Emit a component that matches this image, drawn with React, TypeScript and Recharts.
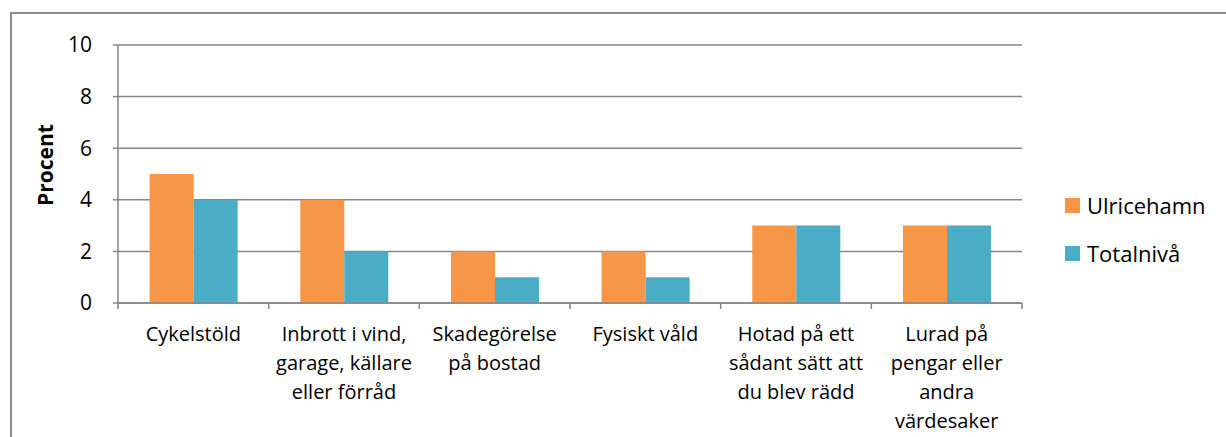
import React from "react";
import {
  BarChart,
  Bar,
  XAxis,
  YAxis,
  CartesianGrid,
  Legend,
  Label,
} from "recharts";

// kategorier (radbrytningar som i originalet)
const categories = [
  "Cykelstöld",
  "Inbrott i vind,\ngarage, källare\neller förråd",
  "Skadegörelse\npå bostad",
  "Fysiskt våld",
  "Hotad på ett\nsådant sätt att\ndu blev rädd",
  "Lurad på\npengar eller\nandra\nvärdesaker",
];
const ulricehamn = [5, 4, 2, 2, 3, 3];
const totalniva = [4, 2, 1, 1, 3, 3];
const yTicks = [0, 2, 4, 6, 8, 10];

const seriesNames = ["Ulricehamn", "Totalnivå"];
const colors = ["#F79646", "#4BACC6"];
const gridColor = "#868686";
const font = "'Open Sans', 'Liberation Sans', sans-serif";

const data = categories.map((name, i) => ({
  name,
  u: ulricehamn[i],
  t: totalniva[i],
}));

const CategoryTick = (props: any) => {
  const { x, y, payload, index, visibleTicksCount } = props;
  const half = payload.offset || 0;
  const lines = String(payload.value).split("\n");
  const isLast = index === visibleTicksCount - 1;
  const y0 = y - 8; // axis line
  return (
    <g>
      <line x1={x - half} x2={x - half} y1={y0} y2={y0 + 6} stroke={gridColor} strokeWidth={1.5} />
      {isLast && (
        <line x1={x + half} x2={x + half} y1={y0} y2={y0 + 6} stroke={gridColor} strokeWidth={1.5} />
      )}
      <text x={x} y={y0 + 38} textAnchor="middle" fontSize={20} fill="#000" fontFamily={font}>
        {lines.map((l, i) => (
          <tspan key={i} x={x} dy={i === 0 ? 0 : 29}>
            {l}
          </tspan>
        ))}
      </text>
    </g>
  );
};

const LegendContent = () => (
  <div style={{ fontFamily: font, fontSize: 22, color: "#000", lineHeight: "24px" }}>
    {seriesNames.map((n, i) => (
      <div key={n} style={{ display: "flex", alignItems: "center", height: 24, marginBottom: 24 }}>
        <span
          style={{
            display: "inline-block",
            width: 15,
            height: 15,
            background: colors[i],
            marginRight: 7,
          }}
        />
        <span>{n}</span>
      </div>
    ))}
  </div>
);

const App = () => {
  return (
    <div
      style={{
        position: "absolute",
        left: 0,
        top: 0,
        width: 1226,
        height: 437,
        overflow: "hidden",
        background: "#fff",
      }}
    >
      {/* ram runt diagrammet */}
      <div
        style={{
          position: "absolute",
          left: 10,
          top: 12,
          width: 1300,
          height: 500,
          border: "2px solid #8c8c8c",
        }}
      />
      <BarChart
        width={1226}
        height={437}
        data={data}
        margin={{ top: 45, right: 44, left: 60, bottom: 0 }}
        barCategoryGap="21%"
        barGap={0}
        style={{ position: "absolute", left: 0, top: 0 }}
      >
        <CartesianGrid vertical={false} stroke={gridColor} strokeWidth={1.5} />
        <XAxis
          dataKey="name"
          interval={0}
          tickLine={false}
          axisLine={{ stroke: gridColor, strokeWidth: 1.5 }}
          tick={<CategoryTick />}
          height={134}
        />
        <YAxis
          width={58}
          domain={[0, 10]}
          ticks={yTicks}
          interval={0}
          tickSize={5}
          tickMargin={21}
          tickLine={{ stroke: gridColor, strokeWidth: 1.5 }}
          axisLine={{ stroke: gridColor, strokeWidth: 1.5 }}
          tick={{ fontSize: 21, fill: "#000", fontFamily: font }}
        >
          <Label
            value="Procent"
            angle={-90}
            position="insideLeft"
            offset={-14}
            dy={-9}
            style={{ fontSize: 21, fontWeight: "bold", fill: "#000", fontFamily: font, textAnchor: "middle" }}
          />
        </YAxis>
        <Legend
          layout="vertical"
          align="right"
          verticalAlign="top"
          content={<LegendContent />}
          wrapperStyle={{ left: 1065, top: 193, width: 160 }}
        />
        <Bar dataKey="u" name={seriesNames[0]} fill={colors[0]} isAnimationActive={false} />
        <Bar dataKey="t" name={seriesNames[1]} fill={colors[1]} isAnimationActive={false} />
      </BarChart>
    </div>
  );
};

export default App;
